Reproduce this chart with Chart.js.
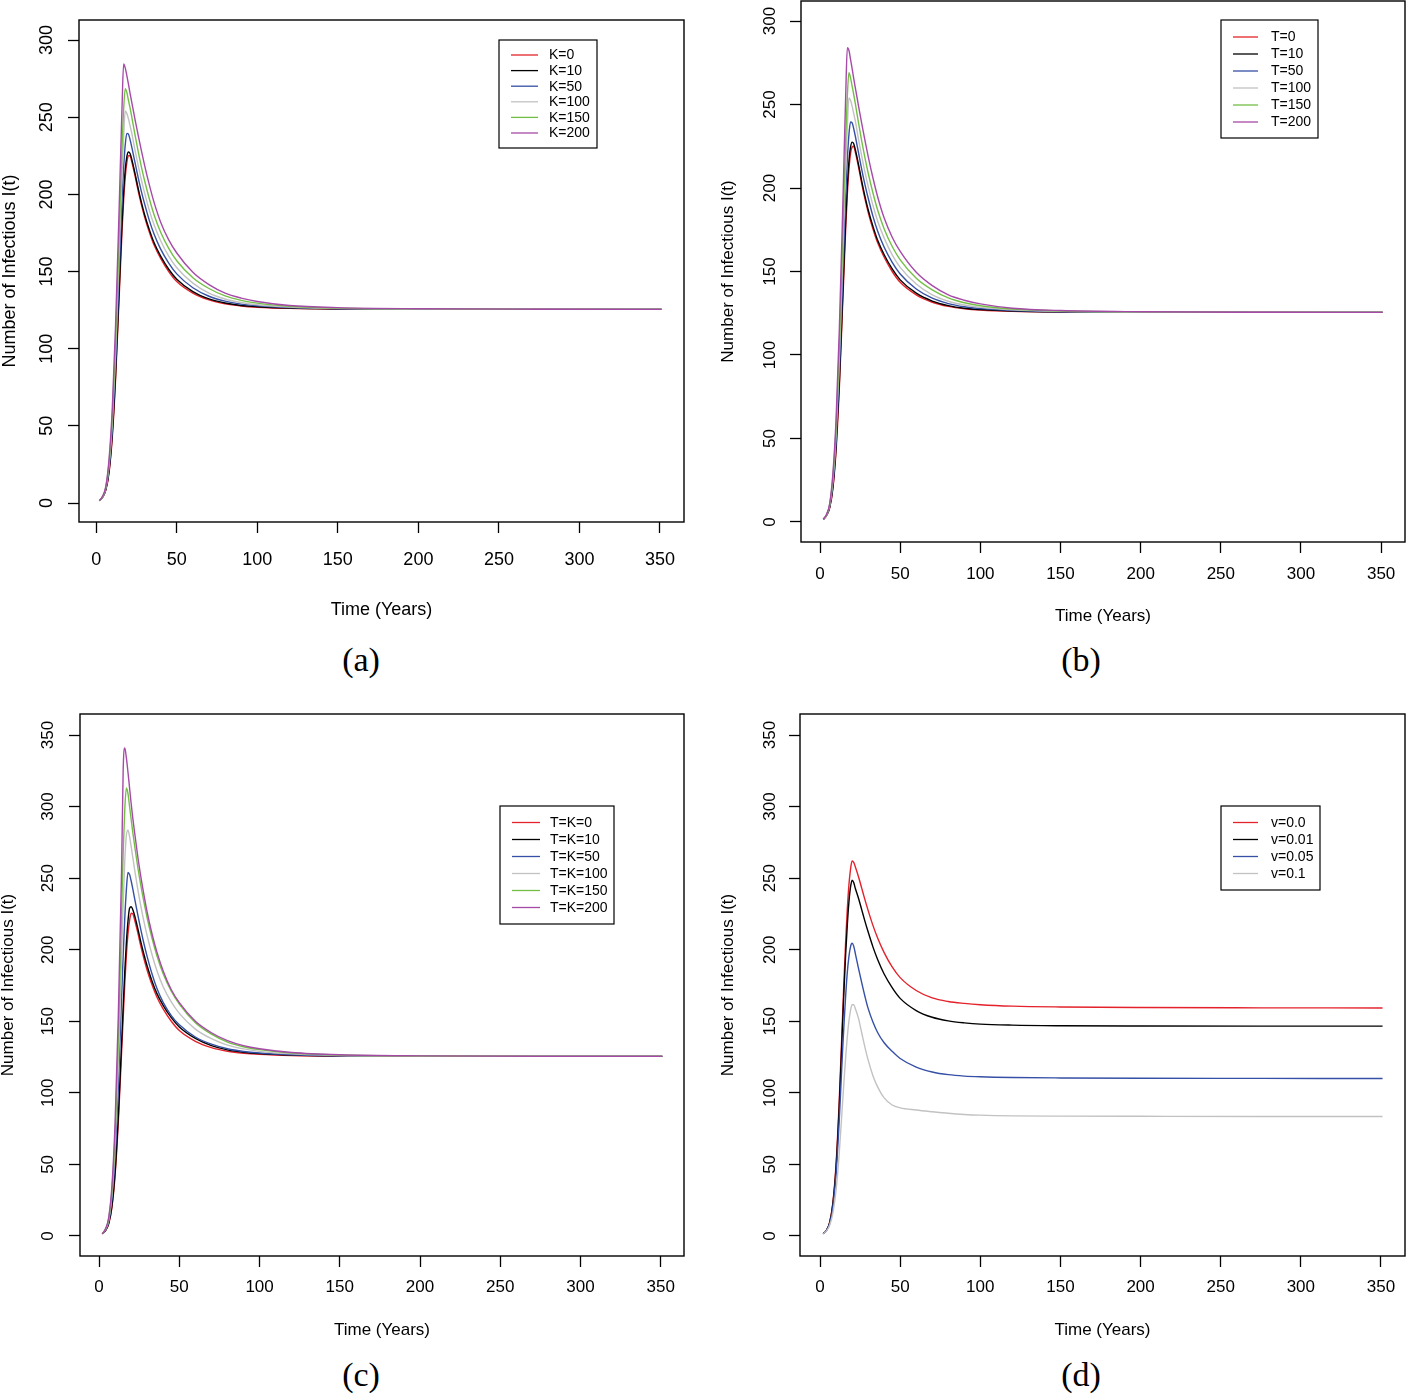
<!DOCTYPE html>
<html><head><meta charset="utf-8">
<script src="https://cdn.jsdelivr.net/npm/chart.js@4.4.1/dist/chart.umd.min.js"></script>
<style>
html,body{margin:0;padding:0;background:#fff;width:1406px;height:1394px;overflow:hidden;position:relative}
canvas{position:absolute}
.cap{position:absolute;font-family:"Liberation Serif","DejaVu Serif",serif;font-size:34px;color:#000;transform:translate(-50%,-50%);white-space:nowrap}
</style></head><body>
<div class="cap" style="left:361px;top:660px">(a)</div>
<div class="cap" style="left:1081px;top:660px">(b)</div>
<div class="cap" style="left:361px;top:1375px">(c)</div>
<div class="cap" style="left:1081px;top:1375px">(d)</div>
<script>
// ---------- data ----------
const timeYears = [2,4,6,8,10,12,14,15,16,17,18,19,20,21,22,24,26,28,30,33,36,40,45,50,60,70,80,90,100,120,150,200,275,351];
const xTickValues = [0,50,100,150,200,250,300,350];
const yTickValuesTop = [0,50,100,150,200,250,300];
const yTickValuesBottom = [0,50,100,150,200,250,300,350];

const labelsA = ['K=0','K=10','K=50','K=100','K=150','K=200'];
const labelsB = ['T=0','T=10','T=50','T=100','T=150','T=200'];
const labelsC = ['T=K=0','T=K=10','T=K=50','T=K=100','T=K=150','T=K=200'];
const labelsD = ['v=0.0','v=0.01','v=0.05','v=0.1'];

// panel (a)
const aK0   = [1.5,3.8,8.5,20,43,80,128,152,176,196,211,220.5,225,225,221.5,212.5,202.5,193.5,185.5,175.5,167,158.5,150,143.5,136,131.6,129.1,127.7,126.9,126.1,125.7,125.5,125.5,125.5];
const aK10  = [1.5,3.9,8.8,21,45,83,132,157,181,201,216,224.5,227.5,226.5,223,214,204,195,187,177,168.5,160,151.5,145,137,132.3,129.6,128,127.2,126.3,125.8,125.6,125.5,125.5];
const aK50  = [1.5,4,9.5,23,49,90,143,170,196,217,232,239.5,239,235.5,231,221,211,202,194,183,174,164.5,155.5,148.5,139.5,134,130.8,128.9,127.8,126.6,125.9,125.6,125.5,125.5];
const aK100 = [1.5,4.1,10,25,53,97,155,185,213,237,254,252.5,249,244.5,240,229,219,209.5,201,189.5,180,170,160,152.5,142.5,136,132.2,129.9,128.5,127,126.1,125.7,125.5,125.5];
const aK150 = [1.5,4.3,10.5,27,57,105,168,200,230,255,268.5,266,261,256,250.5,239,228,218,209,197,186.5,175.5,165,157,146,139,134.2,131.3,129.5,127.5,126.3,125.8,125.5,125.5];
const aK200 = [1.5,4.5,11,29,62,115,183,220,256,284.5,282,277,271.5,265.5,260,249,238.5,228.5,219,206,194.5,182,170.5,162,149.5,141.5,136,132.8,130.6,128,126.6,125.9,125.6,125.5];

// panel (b)
const bT0   = [1.5,3.8,8.5,20,43,80,128,152,176,196,211,220.5,224.5,225,221.5,212.5,202.5,193.5,185.5,175.5,167,158.5,150,143.5,136,131.6,129.1,127.7,126.9,126.1,125.7,125.5,125.5,125.5];
const bT10  = [1.5,3.9,8.8,21,45,83,132,157,181,201,216,224.5,227.5,226.5,223,214,204,195,187,177,168.5,160,151.5,145,137,132.3,129.6,128,127.2,126.3,125.8,125.6,125.5,125.5];
const bT50  = [1.5,4,9.5,23,49,90,143,170,196,217,232,239.5,239,235.5,231,221,211,202,194,183,174,164.5,155.5,148.5,139.5,134,130.8,128.9,127.8,126.6,125.9,125.6,125.5,125.5];
const bT100 = [1.5,4.1,10,25,53,97,155,185,213,237,254,252.5,249,244.5,240,229,219,209.5,201,189.5,180,170,160,152.5,142.5,136,132.2,129.9,128.5,127,126.1,125.7,125.5,125.5];
const bT150 = [1.5,4.3,10.5,27,57,105,168,200,230,255,269,266,261,256,250.5,239,228,218,209,197,186.5,175.5,165,157,146,139,134.2,131.3,129.5,127.5,126.3,125.8,125.5,125.5];
const bT200 = [1.5,4.5,11,29,62,115,183,220,256,284,282.5,277,271.5,265.5,260,249,238.5,228.5,219,206,194.5,182,170.5,162,149.5,141.5,136,132.8,130.6,128,126.6,125.9,125.6,125.5];

// panel (c)
const cTK0   = [1.5,3.8,8.5,20,43,80,128,152,176,196,211,220.5,225.5,225,221.5,212.5,202.5,193.5,185.5,175.5,167,158.5,150,143.5,136,131.6,129.1,127.7,126.9,126.1,125.7,125.5,125.5,125.5];
const cTK10  = [1.5,3.9,8.8,21,45,84,134,160,185,205,220,229,230,228,224.5,215.5,205.5,196.5,188.5,178,169.5,161,152.5,146,138,133,130,128.3,127.4,126.4,125.8,125.5,125.5,125.5];
const cTK50  = [1.5,4.2,10,26,56,104,166,196,222,242,254,252.5,248,242.5,236.5,225,214,204,195,183,173,163,154,147.5,139,134,130.8,128.9,127.8,126.6,125.9,125.5,125.5,125.5];
const cTK100 = [1.5,4.5,11,29,64,120,195,232,262,280,283.5,279,272,264.5,257,243,230.5,219.5,209.5,196.5,185.5,174,163.5,155.5,144.5,137.8,133.3,130.7,129,127.2,126.1,125.6,125.5,125.5];
const cTK150 = [1.5,4.8,12,32,72,138,225,268,298,313,309,300,291,282,274,258.5,245,233,222,208,196,183,171,162,149,141,135.5,132.2,130.2,127.8,126.4,125.7,125.5,125.5];
const cTK200 = [1.5,5,13,35,80,155,255,325,341,334,324,313,302,292,283,266,251,238,226,211,198.5,185,172,163,150,142,136.5,133,130.8,128.2,126.6,125.8,125.5,125.5];

// panel (d)
const dV0   = [1.5,4,9.5,23,50,95,152,180,206,228,245,256,262,261,258,251,243,235,227.5,217,208,198,188,180.5,171.5,166.3,163.8,162.5,161.6,160.6,160,159.6,159.4,159.3];
const dV001 = [1.5,4,9.3,22.5,48,91,146,173,197,217,233,243.5,248.5,247,243,236,228,220,212.5,202,193,183,173.5,166,157.5,152.8,150.3,148.9,148,147.3,146.9,146.7,146.6,146.6];
const dV005 = [1.5,3.8,8.5,20,43,81,128,149,168,184,195,202,204.5,202.5,197.5,187,177,167.5,159,149.5,142,135,129,124,118,114.6,112.7,111.7,111.2,110.7,110.4,110.2,110.1,110];
const dV01  = [1.5,3.5,7.5,16,32,58,92,109,125,139,150,157.5,161.5,161.5,159,152,142,132,123,112,104,96.5,91.5,89.5,88,86.8,85.7,84.9,84.4,83.9,83.7,83.6,83.5,83.5];

const seriesColors = ['#E3222B','#000000','#3550A6','#C2C2C2','#73BF45','#A64AA8'];

// ---------- helpers ----------
const baseFont = {family:'"Liberation Sans", Arial, sans-serif', size:17, lineHeight:1.2};
const fontA = {family:'"Liberation Sans", Arial, sans-serif', size:18, lineHeight:1.2};
function textWidth(font, s){
  const c=document.createElement('canvas').getContext('2d');
  c.font=font.size+'px '+font.family; return c.measureText(s).width;
}

const boxPlugin = {
  id:'rbox',
  afterDatasetsDraw(chart){
    const {ctx, chartArea:a} = chart;
    ctx.save(); ctx.strokeStyle='#000'; ctx.lineWidth=1.4;
    ctx.strokeRect(a.left, a.top, a.right-a.left, a.bottom-a.top);
    ctx.restore();
  }
};
const legendPlugin = {
  id:'rlegend',
  afterDraw(chart, args, o){
    if(!o || !o.box) return;
    const ctx = chart.ctx; const b=o.box;
    ctx.save();
    ctx.fillStyle='#fff'; ctx.fillRect(b.l,b.t,b.r-b.l,b.b-b.t);
    ctx.strokeStyle='#000'; ctx.lineWidth=1.2; ctx.strokeRect(b.l,b.t,b.r-b.l,b.b-b.t);
    ctx.font = o.fontSize+'px "Liberation Sans", Arial, sans-serif';
    ctx.textBaseline='middle'; ctx.textAlign='left';
    chart.data.datasets.forEach((ds,i)=>{
      const y = o.rowY0 + i*o.step;
      ctx.strokeStyle = ds.borderColor; ctx.lineWidth = 1.3;
      ctx.beginPath(); ctx.moveTo(o.lineX0,y); ctx.lineTo(o.lineX1,y); ctx.stroke();
      ctx.fillStyle='#000'; ctx.fillText(ds.label, o.textX, y+0.5);
    });
    ctx.restore();
  }
};

function makePanel(p){
  const cv = document.createElement('canvas');
  cv.width=p.canvas.w; cv.height=p.canvas.h;
  cv.style.left=p.canvas.l+'px'; cv.style.top=p.canvas.t+'px';
  cv.style.width=p.canvas.w+'px'; cv.style.height=p.canvas.h+'px';
  document.body.appendChild(cv);
  const f = p.font; const lh = f.size*f.lineHeight;
  const yW = p.box.l - p.canvas.l;
  const xH = p.canvas.t + p.canvas.h - p.box.b;
  const widest = Math.max(...p.yTicks.map(v=>textWidth(f,String(v))));
  const xTickPad = p.xTickCY - p.box.b - 11 - lh/2;
  const xTitlePad = p.canvas.t + p.canvas.h - p.xTitleCY - lh/2;
  const yTickPad = p.box.l - p.yTickCX - 11 - widest/2;
  const yTitlePad = p.yTitleCX - p.canvas.l - lh/2;
  const ox = p.canvas.l, oy = p.canvas.t;
  const lg = p.legend;
  const datasets = p.series.map((vals,i)=>({
    label: p.labels[i],
    data: timeYears.map((t,k)=>({x:t, y:vals[k]})),
    borderColor: seriesColors[i], backgroundColor: seriesColors[i],
    borderWidth: 1.4, pointRadius: 0, fill:false,
    cubicInterpolationMode:'monotone', order: p.series.length - i
  }));
  const gridOpts = {display:true, drawOnChartArea:false, drawTicks:true, tickLength:11, tickColor:'#000', tickWidth:1.3, color:'#000'};
  new Chart(cv, {
    type:'line',
    data:{datasets},
    options:{
      responsive:false, animation:false, devicePixelRatio:1,
      layout:{padding:{left:0, bottom:0, top:p.box.t-p.canvas.t, right:p.canvas.w-(p.box.r-p.canvas.l)}},
      plugins:{
        legend:{display:false}, tooltip:{enabled:false},
        rlegend:{
          box:{l:lg.box.l-ox, t:lg.box.t-oy, r:lg.box.r-ox, b:lg.box.b-oy},
          rowY0: lg.rowY0-oy, step: lg.step, lineX0: lg.lineX0-ox, lineX1: lg.lineX1-ox,
          textX: lg.textX-ox, fontSize: lg.fontSize
        }
      },
      scales:{
        x:{
          type:'linear', position:'bottom', min:p.xMin, max:p.xMax,
          afterBuildTicks:s=>{ s.ticks = xTickValues.map(v=>({value:v})); },
          afterFit:s=>{ s.height = xH; s.paddingLeft=0; s.paddingRight=0; },
          grid:gridOpts, border:{display:false},
          ticks:{color:'#000', font:f, padding:xTickPad, minRotation:0, maxRotation:0, autoSkip:false, callback:v=>String(v)},
          title:{display:true, text:'Time (Years)', color:'#000', font:f, padding:{top:0, bottom:xTitlePad}}
        },
        y:{
          type:'linear', position:'left', min:p.yMin, max:p.yMax,
          afterBuildTicks:s=>{ s.ticks = p.yTicks.map(v=>({value:v})); },
          afterFit:s=>{ s.width = yW; s.paddingTop=0; s.paddingBottom=0; },
          grid:gridOpts, border:{display:false},
          ticks:{color:'#000', font:f, padding:yTickPad, minRotation:90, maxRotation:90, crossAlign:'center', autoSkip:false, callback:v=>String(v)},
          title:{display:true, text:'Number of Infectious I(t)', color:'#000', font:f, padding:{top:yTitlePad, bottom:0}}
        }
      }
    },
    plugins:[boxPlugin, legendPlugin]
  });
}

makePanel({
  canvas:{l:0,t:0,w:703,h:697}, box:{l:79,t:20,r:684,b:522},
  xMin:-10.7, xMax:364.9, yMin:-12.3, yMax:313, yTicks:yTickValuesTop,
  xTickCY:560, xTitleCY:610, yTickCX:47, yTitleCX:10, font:fontA,
  series:[aK0,aK10,aK50,aK100,aK150,aK200], labels:labelsA,
  legend:{box:{l:499,t:40,r:597,b:148}, rowY0:55, step:15.6, lineX0:511, lineX1:538, textX:549, fontSize:14}
});
makePanel({
  canvas:{l:703,t:0,w:703,h:697}, box:{l:801,t:1,r:1405,b:542},
  xMin:-11.9, xMax:364.9, yMin:-12, yMax:312, yTicks:yTickValuesTop,
  xTickCY:574, xTitleCY:616, yTickCX:770, yTitleCX:728, font:baseFont,
  series:[bT0,bT10,bT50,bT100,bT150,bT200], labels:labelsB,
  legend:{box:{l:1221,t:20,r:1318,b:138}, rowY0:37, step:17, lineX0:1233, lineX1:1258, textX:1271, fontSize:14}
});
makePanel({
  canvas:{l:0,t:697,w:703,h:697}, box:{l:80,t:714,r:684,b:1256},
  xMin:-11.9, xMax:364.5, yMin:-14, yMax:364.7, yTicks:yTickValuesBottom,
  xTickCY:1287, xTitleCY:1330, yTickCX:48, yTitleCX:8, font:baseFont,
  series:[cTK0,cTK10,cTK50,cTK100,cTK150,cTK200], labels:labelsC,
  legend:{box:{l:500,t:806,r:614,b:924}, rowY0:822.5, step:17, lineX0:512, lineX1:540, textX:550, fontSize:14}
});
makePanel({
  canvas:{l:703,t:697,w:703,h:697}, box:{l:800,t:714,r:1405,b:1256},
  xMin:-12.5, xMax:365, yMin:-14, yMax:364.7, yTicks:yTickValuesBottom,
  xTickCY:1287, xTitleCY:1330, yTickCX:770, yTitleCX:728, font:baseFont,
  series:[dV0,dV001,dV005,dV01], labels:labelsD,
  legend:{box:{l:1221,t:806,r:1320,b:890}, rowY0:822.5, step:17, lineX0:1233, lineX1:1258, textX:1271, fontSize:14}
});
</script>
</body></html>
